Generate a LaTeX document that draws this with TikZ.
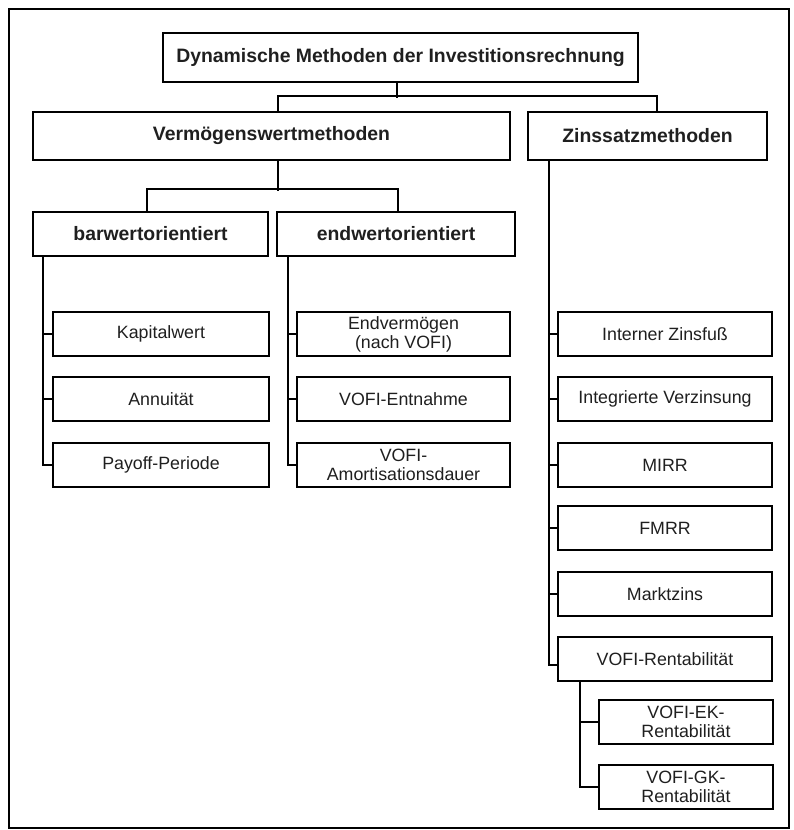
\documentclass[tikz,border=0pt]{standalone}
\usepackage{fontspec}
\setmainfont{Liberation Sans}
\begin{document}
\begin{tikzpicture}[x=1pt,y=-1pt,
  line width=2pt,
  every node/.style={text=black!88},
  box/.style={draw, rectangle, inner sep=0pt, align=center,
    font=\fontsize{17.8}{19}\selectfont},
  headbox/.style={box, font=\fontsize{19.4}{22}\selectfont\bfseries},
  link/.style={draw, line width=2pt}]
\useasboundingbox (0,0) rectangle (793,830);
% outer frame
\draw[line width=1.5pt] (9,9) rectangle (789,828);

% heading levels
\node[headbox, minimum width=475pt, minimum height=49pt] (top) at (400.5,57.5) {Dynamische Methoden der Investitionsrechnung};
\node[headbox, minimum width=477pt, minimum height=48pt] (verm) at (271.5,136) {Vermögenswertmethoden};
\node[headbox, minimum width=239pt, minimum height=48pt] (zins) at (647.5,136) {Zinssatzmethoden};
\node[headbox, minimum width=235pt, minimum height=44pt] (barw) at (150.5,234) {barwertorientiert};
\node[headbox, minimum width=238pt, minimum height=44pt] (endw) at (396,234) {endwertorientiert};

% barwertorientiert
\node[box, minimum width=216pt, minimum height=44pt] (kap) at (161,334) {Kapitalwert};
\node[box, minimum width=216pt, minimum height=44pt] (ann) at (161,399) {Annuität};
\node[box, minimum width=216pt, minimum height=44pt] (pay) at (161,465) {Payoff-Periode};

% endwertorientiert
\node[box, minimum width=213pt, minimum height=44pt] (endv) at (403.5,334) {Endvermögen\\(nach VOFI)};
\node[box, minimum width=213pt, minimum height=44pt] (entn) at (403.5,399) {VOFI-Entnahme};
\node[box, minimum width=213pt, minimum height=44pt] (amort) at (403.5,465) {VOFI-\\Amortisationsdauer};

% Zinssatzmethoden
\node[box, minimum width=214pt, minimum height=44pt] (izf) at (665,334) {Interner Zinsfuß};
\node[box, minimum width=214pt, minimum height=44pt] (iv) at (665,399) {Integrierte Verzinsung};
\node[box, minimum width=214pt, minimum height=44pt] (mirr) at (665,465) {MIRR};
\node[box, minimum width=214pt, minimum height=44pt] (fmrr) at (665,528) {FMRR};
\node[box, minimum width=214pt, minimum height=44pt] (mz) at (665,594) {Marktzins};
\node[box, minimum width=214pt, minimum height=44pt] (vr) at (665,659) {VOFI-Rentabilität};
\node[box, minimum width=174pt, minimum height=44pt] (vek) at (686,722) {VOFI-EK-\\Rentabilität};
\node[box, minimum width=174pt, minimum height=44pt] (vgk) at (686,787) {VOFI-GK-\\Rentabilität};

% connectors between levels
\draw[link] ([xshift=-3.5pt]top.south) -- ++(0,15);
\draw[link] ([xshift=6.5pt]verm.north) -- ++(0,-15) -| ([xshift=9.5pt]zins.north);
\draw[link] ([xshift=6.5pt]verm.south) -- ++(0,30);
\draw[link] ([xshift=-3.5pt]barw.north) -- ++(0,-22) -| ([xshift=2pt]endw.north);

% side buses
\coordinate (lb) at (barw.south -| 43,0);
\draw[link] (lb) |- (pay.west);
\draw[link] (lb |- kap.west) -- (kap.west);
\draw[link] (lb |- ann.west) -- (ann.west);

\coordinate (mb) at (endw.south -| 288,0);
\draw[link] (mb) |- (amort.west);
\draw[link] (mb |- endv.west) -- (endv.west);
\draw[link] (mb |- entn.west) -- (entn.west);

\coordinate (rb) at (zins.south -| 549,0);
\draw[link] (rb) |- ([yshift=-6pt]vr.west);
\foreach \n in {izf,iv,mirr,fmrr,mz}
  \draw[link] (rb |- \n.west) -- (\n.west);

\coordinate (sb) at (vr.south -| 580,0);
\draw[link] (sb) |- (vgk.west);
\draw[link] (sb |- vek.west) -- (vek.west);
\end{tikzpicture}
\end{document}
